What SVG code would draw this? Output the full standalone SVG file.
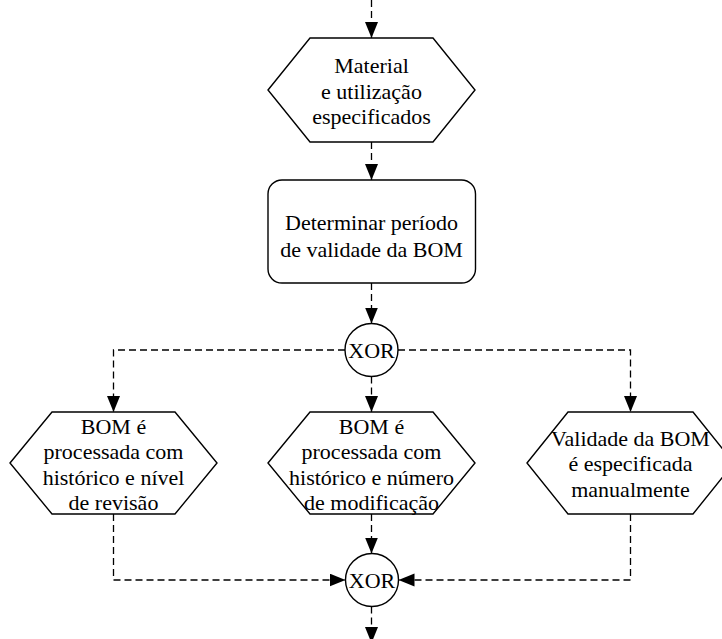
<svg xmlns="http://www.w3.org/2000/svg" width="722" height="639" viewBox="0 0 722 639">
<defs>
<style>
.shape{fill:#fff;stroke:#000;stroke-width:1.4}
.conn{fill:none;stroke:#000;stroke-width:1.3;stroke-dasharray:7,4}
text{font-family:"Liberation Serif","Times New Roman",serif;font-size:22px;fill:#000;text-anchor:middle}
.xor{font-size:22px}
</style>
<marker id="arr" markerUnits="userSpaceOnUse" markerWidth="17" markerHeight="14" refX="16" refY="6.5" orient="auto">
<path d="M0,0 L16,6.5 L0,13 z" fill="#000"/>
</marker>
</defs>
<rect width="722" height="639" fill="#fff"/>
<g id="connectors">
<path class="conn" d="M371.5,0 V38" marker-end="url(#arr)"/>
<path class="conn" d="M371.5,142 V180" marker-end="url(#arr)"/>
<path class="conn" d="M371.5,283 V323.5" marker-end="url(#arr)"/>
<path class="conn" d="M345,350 H113.5 V412" marker-end="url(#arr)"/>
<path class="conn" d="M371.5,376.5 V412" marker-end="url(#arr)"/>
<path class="conn" d="M398,350 H630.5 V412" marker-end="url(#arr)"/>
<path class="conn" d="M113.5,514 V580 H345.5" marker-end="url(#arr)"/>
<path class="conn" d="M371.5,514 V553.5" marker-end="url(#arr)"/>
<path class="conn" d="M630.5,514 V580 H398.5" marker-end="url(#arr)"/>
<path class="conn" d="M371.5,606.5 V643" marker-end="url(#arr)"/>
</g>
<g id="n_material">
<polygon class="shape" points="268,90 310,38 433,38 475,90 433,142 310,142"/>
<text x="371.5" y="73">Material</text>
<text x="371.5" y="98.5">e utilização</text>
<text x="371.5" y="124">especificados</text>
</g>
<g id="n_determinar">
<rect class="shape" x="268" y="180" width="207.5" height="103" rx="14" ry="14"/>
<text x="371.5" y="230">Determinar período</text>
<text x="371.5" y="256.5">de validade da BOM</text>
</g>
<g id="n_xor1">
<circle class="shape" cx="371.5" cy="350" r="26.5"/>
<text class="xor" x="371.5" y="357.5">XOR</text>
</g>
<g id="n_revisao">
<polygon class="shape" points="10,463 52,412 175,412 217,463 175,514 52,514"/>
<text x="113.5" y="433.5">BOM é</text>
<text x="113.5" y="459">processada com</text>
<text x="113.5" y="484.5">histórico e nível</text>
<text x="113.5" y="509.5">de revisão</text>
</g>
<g id="n_modificacao">
<polygon class="shape" points="268,463 310,412 433,412 475,463 433,514 310,514"/>
<text x="371.5" y="433.5">BOM é</text>
<text x="371.5" y="459">processada com</text>
<text x="371.5" y="484.5">histórico e número</text>
<text x="371.5" y="509.5">de modificação</text>
</g>
<g id="n_manual">
<polygon class="shape" points="527,463 568,412 693,412 734,463 693,514 568,514"/>
<text x="630.5" y="445.5">Validade da BOM</text>
<text x="630.5" y="471">é especificada</text>
<text x="630.5" y="496.5">manualmente</text>
</g>
<g id="n_xor2">
<circle class="shape" cx="372" cy="580" r="26.5"/>
<text class="xor" x="372" y="587.5">XOR</text>
</g>
</svg>
